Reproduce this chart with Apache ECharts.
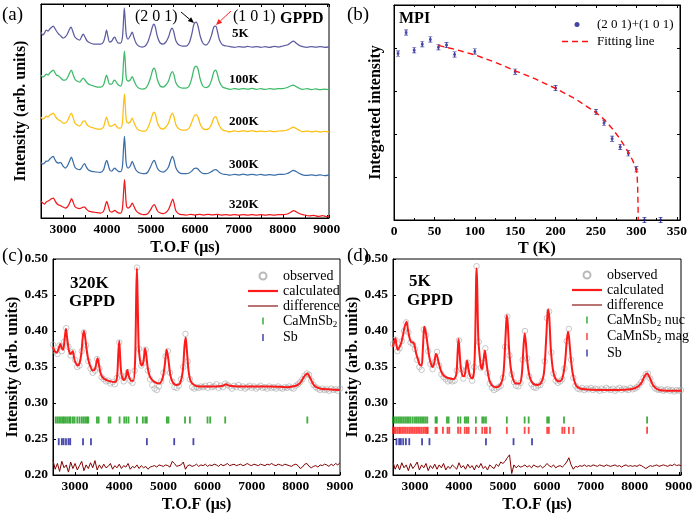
<!DOCTYPE html>
<html><head><meta charset="utf-8">
<script src="https://cdn.jsdelivr.net/npm/echarts@6/dist/echarts.min.js"></script>
<style>html,body{margin:0;padding:0;background:#fff}#c{width:694px;height:514px}</style>
</head><body><div id="c"></div><script>
// ---------------- DATA ----------------
// (a) GPPD patterns, [T.O.F (us), intensity (arb., offset stacked)]
const curve5K = [[2500,186],[2540,183],[2580,185],[2620,188],[2660,187],[2700,189],[2750,191],[2780,192],[2810,190],[2850,187],[2900,184],[2950,182],[3000,180],[3050,181],[3100,184],[3150,189],[3185,191],[3220,187],[3270,181],[3320,179],[3380,178],[3420,181],[3460,184],[3500,181],[3550,177],[3620,175],[3700,174],[3780,174],[3860,174],[3920,176],[3960,182],[3990,188],[4020,182],[4060,176],[4110,177],[4150,180],[4180,181],[4210,178],[4260,175],[4310,175],[4350,180],[4375,196],[4395,210],[4415,198],[4440,183],[4480,179],[4530,182],[4575,186],[4610,181],[4660,175],[4720,172],[4800,171],[4870,172],[4930,176],[4990,184],[5040,192],[5070,194],[5100,191],[5150,181],[5210,175],[5280,174],[5340,176],[5400,181],[5450,188],[5485,190],[5520,186],[5570,177],[5640,173],[5720,172],[5800,172],[5870,175],[5930,184],[5980,194],[6030,196],[6070,192],[6120,182],[6180,175],[6250,173],[6320,176],[6380,183],[6430,191],[6475,192],[6510,187],[6560,178],[6630,173],[6720,172],[6800,171.3],[6900,170.6],[7000,171.4],[7100,170.8],[7200,171.6],[7300,170.9],[7400,171.5],[7500,170.7],[7600,171.3],[7700,170.6],[7800,171.6],[7900,171],[8000,172],[8100,173],[8170,175],[8240,177],[8300,175],[8380,172.5],[8450,171.4],[8550,170.7],[8650,171.5],[8750,170.8],[8850,171.4],[8950,170.7],[9050,171.2]];
const curve100K = [[2500,143],[2540,141],[2580,142],[2620,144],[2660,143],[2700,145],[2750,147],[2780,148],[2810,146],[2850,143],[2900,142],[2950,140],[3000,138],[3050,138],[3100,140],[3150,145],[3190,148],[3225,144],[3270,139],[3320,137],[3380,136],[3420,138],[3460,140],[3500,138],[3550,135],[3620,133],[3700,132],[3780,131],[3860,131],[3920,133],[3960,139],[3990,143],[4020,139],[4060,134],[4110,134],[4150,137],[4180,138],[4210,136],[4260,133],[4310,132],[4350,137],[4375,155],[4398,167],[4418,155],[4440,140],[4480,137],[4530,138],[4575,141.5],[4610,138],[4660,133],[4720,130],[4800,129],[4870,129.5],[4930,133],[4990,140],[5040,148],[5075,150],[5105,147],[5150,138],[5210,132],[5280,131],[5340,133],[5400,137],[5450,144],[5490,146.5],[5525,143],[5570,135],[5640,131],[5720,130],[5800,130],[5870,132],[5930,140],[5985,150],[6030,152],[6070,149],[6120,139],[6180,132],[6250,130.5],[6320,132],[6380,138],[6430,146],[6475,148],[6510,144],[6560,136],[6630,131],[6720,129.5],[6800,128.6],[6900,129.4],[7000,128.7],[7100,129.5],[7200,128.8],[7300,129.6],[7400,128.7],[7500,129.3],[7600,128.6],[7700,129.4],[7800,128.8],[7900,129.5],[8000,129.5],[8100,130.5],[8170,132],[8240,133],[8300,131.5],[8380,129.5],[8450,128.7],[8550,129.3],[8650,128.4],[8750,129.1],[8850,128.3],[8950,129],[9050,128.4]];
const curve200K = [[2500,101],[2540,99],[2580,100],[2620,102],[2660,101],[2700,103],[2750,104],[2780,105],[2810,103],[2850,100],[2900,98],[2950,97],[3000,95],[3050,95],[3100,97],[3150,102],[3190,105],[3225,101],[3270,95],[3320,93],[3380,92],[3420,94],[3460,97],[3500,97],[3550,93],[3620,91],[3700,90],[3780,89],[3860,89],[3920,91],[3960,97],[3990,101],[4020,97],[4060,92],[4110,92],[4150,93],[4180,94],[4210,92],[4260,90],[4310,90],[4350,95],[4375,112],[4398,124],[4418,112],[4440,98],[4480,95],[4530,96],[4575,100],[4610,96],[4660,91],[4720,88],[4800,87],[4870,87],[4930,90],[4990,97],[5040,104],[5075,106],[5105,103],[5150,95],[5210,90],[5280,89],[5340,91],[5400,95],[5450,102],[5490,105],[5525,101],[5570,93],[5640,89],[5720,88],[5800,88],[5870,90],[5930,96],[5985,102],[6030,103.5],[6070,101],[6120,94],[6180,89.5],[6250,88.5],[6320,89.5],[6380,94],[6430,100],[6475,101.5],[6510,98],[6560,92],[6630,88],[6720,87],[6800,86.2],[6900,87.1],[7000,86.4],[7100,87.2],[7200,86.5],[7300,87.3],[7400,86.3],[7500,87],[7600,86.4],[7700,87.1],[7800,86.3],[7900,87],[8000,87.2],[8100,88],[8170,89.5],[8240,91],[8300,89.5],[8380,87.5],[8450,86.4],[8550,87],[8650,86.1],[8750,86.8],[8850,86],[8950,86.7],[9050,86.1]];
const curve300K = [[2500,55.7],[2540,54],[2580,55],[2620,57],[2660,57],[2700,59],[2750,61],[2780,61.7],[2810,59],[2850,56],[2900,55],[2950,55.5],[3000,52],[3050,50],[3100,52],[3150,57],[3190,61],[3225,57],[3270,51],[3320,49],[3380,48.3],[3420,50],[3460,53],[3490,54.3],[3530,51],[3580,48],[3650,46.7],[3750,46],[3850,45.7],[3920,48],[3960,54],[3995,57.7],[4030,53],[4070,47.5],[4110,47],[4150,49],[4180,50],[4210,48.5],[4260,46.7],[4310,46.5],[4350,51],[4375,68],[4398,81.7],[4418,68],[4440,54],[4480,50],[4530,52],[4575,56.7],[4610,53],[4660,48],[4720,45.5],[4800,44.5],[4870,44.3],[4930,46],[4990,51],[5040,56],[5075,57.7],[5105,55],[5150,49.5],[5210,46.7],[5280,46],[5340,47.5],[5400,51],[5450,58],[5490,61.7],[5525,58],[5570,50],[5640,45.5],[5720,44.3],[5800,44.3],[5870,45],[5930,47],[5985,49.5],[6030,50],[6070,49],[6120,46.5],[6180,44.5],[6250,44.3],[6320,45],[6380,46.5],[6430,48],[6475,48.3],[6510,47.5],[6560,45.5],[6630,44],[6720,43.5],[6800,42.8],[6900,43.7],[7000,42.9],[7100,43.8],[7200,43],[7300,43.7],[7400,42.9],[7500,43.6],[7600,42.8],[7700,43.5],[7800,42.8],[7900,43.6],[8000,43.6],[8100,44.5],[8170,46],[8240,47.7],[8300,46.5],[8380,44.5],[8450,43.2],[8550,42.6],[8650,43.2],[8750,42.5],[8850,43.1],[8950,42.4],[9050,42.9]];
const curve320K = [[2500,16.7],[2540,15],[2580,14],[2620,16],[2660,17],[2700,18],[2750,19.5],[2780,20],[2810,18],[2850,15],[2900,13],[2950,12.3],[3000,11],[3050,10],[3100,11],[3150,15],[3195,19.3],[3230,16],[3270,11.5],[3320,10],[3380,9.5],[3420,10],[3460,11],[3490,11],[3530,9],[3580,7],[3650,6.2],[3750,5.5],[3850,5],[3920,6.5],[3960,12],[3995,16.7],[4030,12],[4070,6.5],[4110,6],[4150,7],[4180,7.7],[4210,6.5],[4260,5.2],[4310,5],[4350,9],[4378,26],[4400,38.3],[4420,26],[4445,12],[4480,10],[4530,11.5],[4575,15],[4610,12],[4660,7.5],[4720,5],[4800,3.5],[4870,3.3],[4930,4.5],[4990,8],[5040,12],[5075,13.3],[5105,11.5],[5150,7],[5210,5],[5280,4.5],[5340,5.5],[5400,8.5],[5450,14],[5495,19],[5530,14],[5570,7],[5640,4],[5720,3.3],[5800,2.9],[5900,3.6],[6000,3.0],[6100,3.7],[6200,3.0],[6300,3.6],[6400,3.1],[6500,3.7],[6600,2.9],[6700,3.5],[6800,2.8],[6900,3.4],[7000,2.8],[7100,3.5],[7200,2.9],[7300,3.5],[7400,2.8],[7500,3.4],[7600,2.8],[7700,3.4],[7800,2.9],[7900,3.4],[8000,3.3],[8100,4],[8170,5.5],[8250,7.3],[8310,6],[8400,4],[8500,3],[8600,2.2],[8700,2.6],[8800,1.6],[8900,2.3],[9000,1.5],[9050,2]];
const curveNames = ['5K','100K','200K','300K','320K'];

// (b) MPI integrated intensity
const tempK = [5,15,25,35,45,55,65,75,100,150,200,250,260,270,280,290,300,310,330];
const mpi   = [3.87,4.36,3.95,4.09,4.20,4.02,4.07,3.85,3.92,3.45,3.07,2.51,2.26,1.89,1.70,1.55,1.18,0,0];
const fitT  = [55,75,100,125,150,175,200,225,250,260,270,280,290,295,298,300,301,301.6,302,302.3];
const fitY  = [4.06,3.97,3.84,3.67,3.47,3.28,3.06,2.81,2.50,2.34,2.13,1.88,1.58,1.40,1.27,1.16,1.00,0.75,0.40,0];

// (c) 320K refinement
const obsStep = 50;
const obsStartC = 2500;
const obsC = [0.381,0.372,0.368,0.380,0.372,0.385,0.404,0.378,0.366,0.371,
0.360,0.350,0.352,0.372,0.398,0.380,0.358,0.348,0.342,0.345,
0.361,0.348,0.336,0.333,0.330,0.331,0.327,0.329,0.326,0.335,
0.384,0.338,0.330,0.337,0.343,0.331,0.328,0.345,0.488,0.375,
0.352,0.356,0.374,0.345,0.333,0.325,0.320,0.318,0.323,0.330,
0.342,0.365,0.372,0.342,0.330,0.322,0.321,0.324,0.333,0.350,
0.396,0.358,0.333,0.322,0.320,0.322,0.321,0.323,0.322,0.324,
0.321,0.325,0.322,0.323,0.326,0.321,0.324,0.322,0.327,0.325,
0.323,0.320,0.324,0.322,0.325,0.321,0.323,0.320,0.322,0.324,
0.321,0.323,0.320,0.322,0.324,0.321,0.322,0.320,0.323,0.321,
0.322,0.320,0.323,0.321,0.320,0.322,0.321,0.323,0.321,0.320,
0.324,0.326,0.329,0.333,0.338,0.341,0.339,0.331,0.325,0.322,
0.320,0.318,0.320,0.318,0.319,0.317,0.320,0.318,0.319,0.317,
0.320];
const calcC = [[2500,0.378],[2540,0.372],[2590,0.370],[2630,0.376],[2666,0.382],[2700,0.376],[2730,0.374],[2765,0.390],[2794,0.403],[2820,0.390],[2854,0.375],[2890,0.368],[2915,0.369],[2950,0.372],[2980,0.362],[3010,0.356],[3060,0.352],[3100,0.355],[3140,0.368],[3175,0.392],[3200,0.400],[3225,0.393],[3260,0.375],[3300,0.360],[3340,0.352],[3400,0.345],[3450,0.347],[3490,0.358],[3510,0.362],[3535,0.355],[3575,0.342],[3620,0.336],[3700,0.332],[3800,0.330],[3900,0.329],[3950,0.336],[3980,0.370],[4000,0.386],[4020,0.365],[4050,0.340],[4100,0.332],[4150,0.336],[4185,0.346],[4215,0.338],[4270,0.331],[4320,0.331],[4360,0.360],[4385,0.450],[4400,0.487],[4415,0.450],[4440,0.380],[4470,0.360],[4510,0.352],[4550,0.358],[4585,0.376],[4610,0.368],[4650,0.347],[4700,0.336],[4780,0.330],[4900,0.327],[4980,0.334],[5030,0.352],[5075,0.374],[5110,0.362],[5160,0.338],[5220,0.328],[5300,0.325],[5380,0.328],[5440,0.345],[5480,0.380],[5505,0.391],[5530,0.375],[5570,0.345],[5620,0.330],[5700,0.325],[5800,0.323],[6000,0.323],[6200,0.323],[6350,0.324],[6420,0.326],[6500,0.324],[6700,0.323],[7000,0.323],[7400,0.323],[7800,0.322],[8000,0.324],[8100,0.328],[8180,0.336],[8260,0.341],[8330,0.334],[8420,0.324],[8550,0.320],[8750,0.319],[9000,0.318]];
const diffC = [0.220,0.208,0.216,0.205,0.219,0.210,0.214,0.204,0.218,0.209,
0.216,0.207,0.213,0.219,0.206,0.214,0.209,0.217,0.210,0.220,
0.207,0.214,0.209,0.215,0.210,0.212,0.216,0.208,0.213,0.210,
0.215,0.209,0.213,0.211,0.216,0.208,0.212,0.210,0.214,0.209,
0.213,0.210,0.212,0.208,0.211,
0.212,0.213,0.211,0.214,0.213,0.212,0.214,0.213,0.211,
0.219,0.216,0.212,0.213,0.214,0.218,0.208,0.213,0.214,0.212,
0.213,0.215,0.212,0.214,0.213,0.215,0.212,0.214,0.213,0.215,
0.214,0.212,0.215,0.213,0.214,0.216,0.213,0.214,0.215,0.213,
0.214,0.215,0.213,0.214,0.216,0.214,0.213,0.215,0.214,0.213,
0.215,0.214,0.213,0.215,0.214,0.216,0.214,0.213,0.215,0.214,
0.213,0.215,0.214,0.213,0.212,0.214,0.215,0.213,0.209,0.211,
0.215,0.216,0.212,0.210,0.212,0.213,0.211,0.214,0.213,0.215,
0.214,0.212,0.215,0.213,0.216,0.214,0.217];
const braggCaMnSb2_C = [2560,2600,2640,2680,2720,2750,2790,2830,2870,2900,2950,2990,3050,3100,3150,3190,3230,3270,3300,3495,3533,3760,3800,4008,4114,4160,4210,4400,4535,4590,4625,5080,5115,5490,5600,6000,6060,6400,8260];
const braggSb_C = [2630,2700,2740,2794,2850,2890,3180,3360,4626,5245,5680];

// (d) 5K refinement
const obsStartD = 2500;
const obsD = [0.382,0.388,0.372,0.376,0.386,0.400,0.412,0.398,0.384,0.382,
0.375,0.360,0.350,0.346,0.402,0.394,0.372,0.354,0.347,0.357,
0.371,0.352,0.340,0.336,0.333,0.330,0.332,0.330,0.331,0.345,
0.387,0.347,0.334,0.345,0.356,0.337,0.331,0.350,0.490,0.385,
0.349,0.356,0.376,0.342,0.327,0.321,0.318,0.320,0.322,0.324,
0.335,0.378,0.420,0.366,0.340,0.329,0.324,0.323,0.328,0.360,
0.400,0.362,0.337,0.326,0.322,0.321,0.324,0.325,0.331,0.358,
0.418,0.427,0.370,0.341,0.331,0.328,0.330,0.333,0.348,0.386,
0.403,0.360,0.335,0.324,0.320,0.319,0.321,0.318,0.320,0.319,
0.321,0.318,0.320,0.319,0.317,0.320,0.318,0.321,0.319,0.318,
0.320,0.317,0.319,0.321,0.318,0.320,0.319,0.318,0.321,0.319,
0.320,0.322,0.325,0.329,0.335,0.340,0.341,0.334,0.326,0.321,
0.319,0.318,0.319,0.317,0.318,0.319,0.317,0.318,0.316,0.318,
0.317,0.318];
const calcD = [[2500,0.378],[2530,0.385],[2555,0.390],[2580,0.380],[2610,0.374],[2650,0.378],[2690,0.384],[2730,0.395],[2760,0.405],[2790,0.410],[2810,0.413],[2840,0.402],[2870,0.392],[2900,0.386],[2930,0.384],[2960,0.384],[2990,0.380],[3030,0.368],[3070,0.360],[3110,0.353],[3150,0.352],[3175,0.370],[3200,0.400],[3215,0.406],[3240,0.400],[3280,0.384],[3320,0.366],[3360,0.355],[3400,0.350],[3440,0.356],[3475,0.368],[3500,0.366],[3540,0.356],[3590,0.345],[3640,0.339],[3700,0.336],[3800,0.334],[3880,0.333],[3940,0.340],[3970,0.370],[3990,0.389],[4010,0.375],[4040,0.350],[4080,0.338],[4120,0.337],[4160,0.350],[4185,0.359],[4210,0.350],[4250,0.338],[4300,0.334],[4340,0.342],[4370,0.390],[4390,0.470],[4400,0.487],[4412,0.470],[4440,0.390],[4470,0.366],[4500,0.350],[4525,0.347],[4560,0.360],[4590,0.373],[4615,0.362],[4650,0.345],[4700,0.330],[4760,0.324],[4850,0.322],[4950,0.326],[5010,0.340],[5050,0.380],[5075,0.412],[5090,0.422],[5110,0.410],[5140,0.375],[5180,0.348],[5230,0.333],[5300,0.327],[5380,0.327],[5430,0.340],[5465,0.375],[5495,0.397],[5520,0.385],[5560,0.355],[5610,0.336],[5680,0.327],[5780,0.325],[5860,0.327],[5930,0.340],[5980,0.385],[6010,0.420],[6030,0.430],[6055,0.418],[6090,0.375],[6140,0.345],[6200,0.333],[6280,0.330],[6350,0.334],[6410,0.355],[6450,0.385],[6480,0.399],[6505,0.390],[6540,0.365],[6590,0.340],[6650,0.326],[6720,0.321],[6850,0.319],[7200,0.318],[7600,0.318],[7900,0.319],[8050,0.322],[8150,0.328],[8220,0.337],[8280,0.341],[8340,0.335],[8420,0.324],[8550,0.318],[8800,0.317],[9080,0.317]];
const diffD = [0.218,0.208,0.215,0.207,0.217,0.210,0.214,0.206,0.216,0.209,
0.213,0.218,0.207,0.214,0.210,0.216,0.206,0.213,0.209,0.215,
0.208,0.214,0.210,0.216,0.207,0.212,0.209,0.214,0.211,0.208,
0.217,0.210,0.213,0.208,0.215,0.210,0.213,0.207,0.214,0.210,
0.216,0.209,0.212,0.207,0.214,0.211,0.209,0.215,0.212,0.218,
0.216,0.219,0.224,0.228,0.202,0.214,0.210,0.213,0.211,0.212,
0.214,0.211,0.213,0.210,0.214,0.212,0.211,0.213,0.210,0.212,
0.216,0.213,0.211,0.214,0.210,0.212,0.213,0.211,0.214,0.218,
0.224,0.214,0.208,0.212,0.211,0.213,0.212,0.214,0.212,0.213,
0.212,0.214,0.213,0.212,0.214,0.213,0.212,0.214,0.213,0.212,
0.213,0.214,0.212,0.213,0.211,0.213,0.214,0.212,0.213,0.212,
0.213,0.212,0.214,0.213,0.211,0.209,0.211,0.213,0.212,0.213,
0.214,0.212,0.213,0.214,0.213,0.212,0.214,0.213,0.215,0.213,0.214,0.213];
const braggNuc_D = [2500,2540,2580,2620,2660,2700,2740,2780,2820,2860,2900,2950,3000,3040,3080,3120,3160,3200,3240,3280,3467,3497,3727,3765,3979,4033,4132,4170,4209,4385,4530,4568,4614,5089,5494,5586,6007,6045,6389,8279];
const braggMag_D = [2500,2530,2560,2600,2640,2670,2710,2750,2790,2830,2870,2910,2950,2990,3030,3070,3110,3150,3190,3230,3270,3290,3467,3497,3635,3740,3780,3979,4033,4132,4180,4220,4385,4530,4590,4630,4706,5089,5494,5586,6007,6045,6351,6400,6500,6603,8279];
const braggSb_D = [2579,2640,2679,2732,2793,2870,3161,3329,4614,5241,5662];

// ---------------- CHART ----------------
const FONT = "'Liberation Serif','Times New Roman',serif";
const chart = echarts.init(document.getElementById('c'), null, {renderer:'canvas'});
const black = '#000';
const tickLbl = {fontFamily:FONT, fontWeight:'bold', fontSize:13.5, color:black};
const nameTS = {fontFamily:FONT, fontWeight:'bold', fontSize:16, color:black};
const aLine = {show:true, onZero:false, lineStyle:{color:black, width:1}};
const noSplit = {show:false};
const gridBase = {show:true, borderColor:black, borderWidth:1, backgroundColor:'transparent', containLabel:false, outerBoundsMode:'none'};

function tofAxis(gi, max, pos, labels, name){
  return {gridIndex:gi, type:'value', position:pos, min:2500, max:max, interval:500,
    axisLine:aLine, splitLine:noSplit,
    axisTick:{show:true, inside:true, length:3, lineStyle:{color:black}},
    axisLabel:labels ? Object.assign({margin:5, formatter:v => (v % 1000 === 0 ? String(v) : '')}, tickLbl) : {show:false},
    name:name||'', nameLocation:'middle', nameGap:22, nameTextStyle:nameTS};
}
function gridPts(arr, start){ return arr.map((v,i) => [start + i*obsStep, v]); }
function bragg(arr, level){ return arr.map(t => [t, level]); }

const curveData = [curve5K, curve100K, curve200K, curve300K, curve320K];
const curveColors = ['#5d5da0','#3cba68','#fdbf10','#3c6ea8','#f01a1e'];

const series = [];
curveData.forEach((d,i) => series.push({name:curveNames[i], type:'line', xAxisIndex:0, yAxisIndex:0, data:d, smooth:0.3, symbol:'none', lineStyle:{color:curveColors[i], width:1.25}, itemStyle:{color:curveColors[i]}}));

series.push({name:'(2 0 1)+(1 0 1)', type:'scatter', xAxisIndex:2, yAxisIndex:1, data:tempK.map((t,i)=>[t, mpi[i]]),
  symbol:'path://M0,0H6V1H4V3H5V6H4V8H6V9H0V8H2V6H1V3H2V1H0Z', symbolSize:[4,6], itemStyle:{color:'#14148a'}});
series.push({name:'Fitting line', type:'line', xAxisIndex:2, yAxisIndex:1, data:fitT.map((t,i)=>[t, fitY[i]]), symbol:'none',
  lineStyle:{color:'#ff1010', width:1.4, type:[6,4]}, itemStyle:{color:'#ff1010'}});

function refineSeries(xi, yi, obs, start, calc, diff, bragList){
  series.push({name:'observed', type:'scatter', xAxisIndex:xi, yAxisIndex:yi, data:gridPts(obs,start), symbol:'circle', symbolSize:5.5,
    itemStyle:{color:'rgba(0,0,0,0)', borderColor:'#a9a9a9', borderWidth:0.8}});
  series.push({name:'calculated', type:'line', xAxisIndex:xi, yAxisIndex:yi, data:calc, smooth:0.3, symbol:'none',
    lineStyle:{color:'#ff1a1a', width:2}, itemStyle:{color:'#ff1a1a'}});
  series.push({name:'difference', type:'line', xAxisIndex:xi, yAxisIndex:yi, data:gridPts(diff,start), symbol:'none',
    lineStyle:{color:'#800000', width:1}, itemStyle:{color:'#800000'}});
  bragList.forEach(b => series.push({name:b.name, type:'scatter', xAxisIndex:xi, yAxisIndex:yi, data:bragg(b.pos, b.level),
    symbol:'rect', symbolSize:[1.8,7], itemStyle:{color:b.color}}));
}
refineSeries(4, 3, obsC, obsStartC, calcC, diffC, [
  {name:'CaMnSb2', pos:braggCaMnSb2_C, level:0.2764, color:'#129a12'},
  {name:'Sb', pos:braggSb_C, level:0.2463, color:'#1a1a9a'}]);
refineSeries(5, 4, obsD, obsStartD, calcD, diffD, [
  {name:'CaMnSb2 nuc', pos:braggNuc_D, level:0.2764, color:'#129a12'},
  {name:'CaMnSb2 mag', pos:braggMag_D, level:0.2620, color:'#ff1a1a'},
  {name:'Sb', pos:braggSb_D, level:0.2463, color:'#1a1a9a'}]);

const tickIcon = 'path://M0,0H2V9H0Z';
const thickIcon = 'path://M0,0H30V2.2H0Z';
const thinIcon = 'path://M0,0H30V1.1H0Z';
const dashIcon = 'path://M0,0H6V1.5H0Z M10,0H16V1.5H10Z M20,0H26V1.5H20Z M30,0H30.01V1.5H30Z';
const legText = {fontFamily:FONT, fontSize:14, color:black,
  rich:{n:{fontFamily:FONT, fontSize:14, color:black}, s:{fontFamily:FONT, fontSize:9, color:black, padding:[8,0,0,0]}}};
const legFmt = name => name.indexOf('CaMnSb2') === 0 ? '{n|CaMnSb}{s|2}{n|' + name.slice(7) + '}' : name;

function arrow(x1,y1,x2,y2,color){
  const a = Math.atan2(y2-y1, x2-x1), L = 6, W = 2.6;
  const bx = x2 - L*Math.cos(a), by = y2 - L*Math.sin(a);
  return [{type:'line', shape:{x1,y1,x2:bx,y2:by}, style:{stroke:color, lineWidth:1}},
    {type:'polygon', shape:{points:[[x2,y2],[bx + W*Math.sin(a), by - W*Math.cos(a)],[bx - W*Math.sin(a), by + W*Math.cos(a)]]}, style:{fill:color}}];
}
function txt(t, left, top, size, bold){
  return {type:'text', left, top, style:{text:t, font:(bold?'bold ':'') + size + 'px ' + FONT, fill:black}};
}

const option = {
  animation:false,
  backgroundColor:'#fff',
  grid:[
    Object.assign({left:41, top:4, width:288, height:214}, gridBase),
    Object.assign({left:394, top:5, width:286, height:215}, gridBase),
    Object.assign({left:53, top:259, width:287, height:216}, gridBase),
    Object.assign({left:393, top:259, width:288, height:216}, gridBase)
  ],
  xAxis:[
    tofAxis(0, 9050, 'bottom', true, 'T.O.F (\u03bcs)'),
    tofAxis(0, 9050, 'top', false),
    {gridIndex:1, type:'value', min:0, max:354, interval:50, axisLine:aLine, splitLine:noSplit,
      axisTick:{inside:true, length:3, lineStyle:{color:black}}, minorTick:{show:true, splitNumber:2, length:2, lineStyle:{color:black}},
      axisLabel:Object.assign({margin:5, formatter:v => (v % 50 === 0 ? String(v) : '')}, tickLbl),
      name:'T (K)', nameLocation:'middle', nameGap:21, nameTextStyle:nameTS},
    {gridIndex:1, type:'value', position:'top', min:0, max:354, interval:50, axisLine:aLine, splitLine:noSplit,
      axisTick:{inside:true, length:3, lineStyle:{color:black}}, minorTick:{show:true, splitNumber:2, length:2, lineStyle:{color:black}},
      axisLabel:{show:false}},
    tofAxis(2, 9000, 'bottom', true, 'T.O.F (\u03bcs)'),
    tofAxis(3, 9050, 'bottom', true, 'T.O.F (\u03bcs)')
  ],
  yAxis:[
    {gridIndex:0, type:'value', min:0, max:214, axisLine:aLine, splitLine:noSplit, axisTick:{show:false}, axisLabel:{show:false},
      name:'Intensity (arb. units)', nameLocation:'middle', nameGap:12, nameTextStyle:nameTS},
    {gridIndex:1, type:'value', min:0, max:5, interval:1, axisLine:aLine, splitLine:noSplit, axisTick:{inside:true, length:3, lineStyle:{color:black}}, axisLabel:{show:false},
      name:'Integrated intensity', nameLocation:'middle', nameGap:10, nameTextStyle:nameTS},
    {gridIndex:1, type:'value', position:'right', min:0, max:5, interval:1, axisLine:aLine, splitLine:noSplit, axisTick:{inside:true, length:3, lineStyle:{color:black}}, axisLabel:{show:false}},
    {gridIndex:2, type:'value', min:0.2, max:0.5, interval:0.05, axisLine:aLine, splitLine:noSplit, axisTick:{inside:true, length:3, lineStyle:{color:black}},
      axisLabel:Object.assign({margin:5, formatter:v => v.toFixed(2)}, tickLbl),
      name:'Intensity (arb. units)', nameLocation:'middle', nameGap:28, nameTextStyle:nameTS},
    {gridIndex:3, type:'value', min:0.2, max:0.5, interval:0.05, axisLine:aLine, splitLine:noSplit, axisTick:{inside:true, length:3, lineStyle:{color:black}},
      axisLabel:Object.assign({margin:5, formatter:v => v.toFixed(2)}, tickLbl),
      name:'Intensity (arb. units)', nameLocation:'middle', nameGap:28, nameTextStyle:nameTS}
  ],
  legend:[
    {left:557, top:13, orient:'vertical', itemWidth:30, itemHeight:5, itemGap:4, selectedMode:false,
      textStyle:{fontFamily:FONT, fontSize:13, color:black},
      data:[{name:'(2 0 1)+(1 0 1)', icon:'circle'}, {name:'Fitting line', icon:dashIcon}]},
    {left:243, top:264, orient:'vertical', itemWidth:30, itemHeight:7, itemGap:1, selectedMode:false,
      textStyle:legText, formatter:legFmt,
      data:[{name:'observed'},{name:'calculated', icon:thickIcon},{name:'difference', icon:thinIcon},{name:'CaMnSb2', icon:tickIcon},{name:'Sb', icon:tickIcon}]},
    {left:567, top:263, orient:'vertical', itemWidth:30, itemHeight:7, itemGap:1, selectedMode:false,
      textStyle:legText, formatter:legFmt,
      data:[{name:'observed'},{name:'calculated', icon:thickIcon},{name:'difference', icon:thinIcon},{name:'CaMnSb2 nuc', icon:tickIcon},{name:'CaMnSb2 mag', icon:tickIcon},{name:'Sb', icon:tickIcon}]}
  ],
  graphic:[].concat(
    [txt('(a)', 2, 6, 19), txt('(b)', 347, 6, 19), txt('(c)', 2, 247, 19), txt('(d)', 347, 247, 19),
     txt('MPI', 399, 11, 16, true), txt('GPPD', 280, 11, 16, true),
     txt('(2 0 1)', 135, 9, 16), txt('(1 0 1)', 233, 9, 16),
     txt('5K', 232, 27, 13, true), txt('100K', 229, 73, 13, true), txt('200K', 229, 115, 13, true),
     txt('300K', 229, 158, 13, true), txt('320K', 229, 198, 13, true),
     txt('320K', 70, 275, 17, true), txt('GPPD', 69, 293, 17, true),
     txt('5K', 409, 273, 17, true), txt('GPPD', 407, 292, 17, true)],
    arrow(181, 12, 194, 23, '#000'),
    arrow(231, 11, 216, 25, '#ff2020')
  ),
  series:series
};
chart.setOption(option);
</script></body></html>
